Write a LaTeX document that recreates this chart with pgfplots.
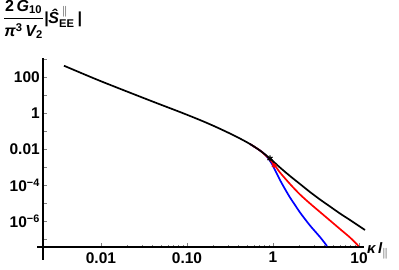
\documentclass[border=0pt]{standalone}
\usepackage{fontspec}
\setmainfont{Liberation Sans}
\usepackage{amsmath}
\usepackage{pgfplots}
\pgfplotsset{compat=1.18}
\begin{document}
\begin{tikzpicture}
\useasboundingbox (0,0) rectangle (399pt,269pt);
\begin{axis}[
  at={(43pt,22pt)}, anchor=south west,
  width=321pt, height=189pt, scale only axis,
  xmode=log, ymode=log,
  xmin=0.00212, xmax=11.43, ymin=3.59e-8, ymax=1137,
  axis lines=left, axis line style={-, line width=1.6pt},
  clip=false,
  xtick={0.01,0.1,1,10}, xticklabels={0.01,0.10,1,10},
  ytick={1e-7,1e-6,1e-5,1e-4,1e-3,1e-2,1e-1,1,10,100,1000},
  yticklabels={,10\textsuperscript{−6},,10\textsuperscript{−4},,0.01,,1,,100,},
  yminorticks=false,
  tick align=inside,
  major tick length=4pt, minor tick length=2.5pt,
  tick style={gray, line width=0.6pt},
  ticklabel style={font=\fontsize{15.5}{17}\selectfont\bfseries},
  xticklabel style={inner sep=0pt, yshift=-5pt},
  yticklabel style={inner sep=0pt, xshift=-3pt},
]
\addplot[blue, line width=1.7pt, smooth, tension=0.5] coordinates {
(0.540,0.01896)(0.706,0.00826)(0.786,0.0055)(0.875,0.00316)(0.9736,0.001468)(1.084,0.000527)(1.206,0.0001896)(1.379,6.0e-5)(1.577,2.02e-5)(1.803,7.74e-6)(2.061,2.97e-6)(2.693,5.62e-7)(3.520,1.29e-7)(4.245,4.08e-8)};
\addplot[red, line width=1.7pt, smooth, tension=0.5] coordinates {
(0.540,0.01896)(0.706,0.00826)(0.875,0.00337)(0.9736,0.001896)(1.084,0.001)(1.206,0.000495)(1.577,0.0001137)(2.061,2.97e-5)(2.693,9.38e-6)(3.520,3.16e-6)(4.60,1.066e-6)(6.01,3.59e-7)(7.86,1.211e-7)(9.87,4.08e-8)};
\addplot[red, only marks, mark=asterisk, mark size=2.5pt, line width=1pt] coordinates {(1.03,0.0012)};
\addplot[black, line width=1.7pt, smooth, tension=0.5] coordinates {
(0.003715,424.6)(0.00973,61.5)(0.03715,4.95)(0.0829,1.137)(0.1416,0.408)(0.2117,0.178)(0.3162,0.0726)(0.413,0.0383)(0.540,0.01896)(0.706,0.00826)(0.923,0.00297)(1.206,0.000938)(1.577,0.000316)(2.061,0.0001137)(2.693,4.08e-5)(3.520,1.565e-5)(4.60,6.39e-6)(6.01,2.61e-6)(7.86,1.136e-6)(11.74,3.16e-7)};
\addplot[black, only marks, mark=asterisk, mark size=3pt, line width=1.1pt] coordinates {(0.923,0.00297)};
\draw[line width=1.6pt] (rel axis cs:0,0) -- ++(0pt,-13pt);
\draw[line width=1.6pt] (rel axis cs:0,0) -- ++(-6pt,0pt);
\end{axis}
\node[anchor=base west, inner sep=0pt] at (3pt,246pt) {\fontsize{16}{18}\selectfont\bfseries\itshape
$\genfrac{}{}{1.3pt}{0}{\text{\upshape 2\,}\text{G}_{\text{\upshape 10}}}{\text{π}^{\text{\upshape 3}}\,\text{V}_{\text{\upshape 2}}}$|\^{S}$_{\text{\upshape EE}}^{\;\parallel}$\,|};
\node[anchor=base west, inner sep=0pt] at (367pt,16pt) {\fontsize{15}{17}\selectfont\bfseries\itshape κ\,l$_{\parallel}$};
\end{tikzpicture}
\end{document}
